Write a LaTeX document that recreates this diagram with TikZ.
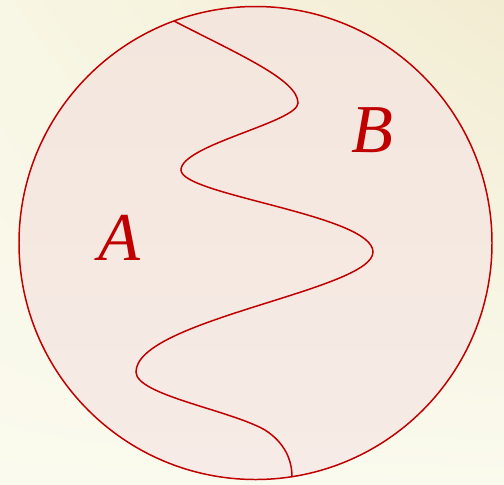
\documentclass[tikz,border=0pt]{standalone}
\usepackage{fontspec}
\usepackage{tikz}
\usetikzlibrary{calc,shadings}
\newfontfamily\labelfont{Liberation Serif}
\definecolor{regionred}{RGB}{192,0,0}
\definecolor{bgpale}{RGB}{250,250,238}
\definecolor{bgyellow}{RGB}{242,236,210}
\definecolor{bgmid}{RGB}{248,246,228}
\definecolor{disctop}{RGB}{243,230,221}
\definecolor{discbot}{RGB}{246,235,230}
\tikzset{
  % outline of the disc and of the dividing curve
  border/.style={draw=regionred, line width=0.85pt},
  % region labels
  regionlabel/.style={text=regionred, font=\labelfont\itshape\fontsize{39}{39}\selectfont, inner sep=0pt}
}

\begin{document}
\begin{tikzpicture}[x=0.02cm, y=-0.02cm]

% background
\useasboundingbox (0,0) rectangle (504,484);
\shade[upper left=bgmid, upper right=bgyellow, lower left=bgpale, lower right=bgpale]
  (0,0) rectangle (504,484);

% disc
\coordinate (centre) at (255.5,243);
\shade[top color=disctop, bottom color=discbot] (centre) circle[radius=236.5];
\draw[border] (centre) circle[radius=236.5];

% dividing curve
\coordinate (top) at (174,21);
\coordinate (bot) at (292,477);
\draw[border] (top) .. controls (240,55) and (298,80) .. (298,103)
  .. controls (298,122) and (181,145) .. (181,170)
  .. controls (181,195) and (373,215) .. (373,252)
  .. controls (373,290) and (136,320) .. (136,372)
  .. controls (136,395) and (230,410) .. (265,430)
  .. controls (285,443) and (292,460) .. (bot);

% labels
\node[regionlabel] (labA) at (119,238) {A};
\node[regionlabel] (labB) at (372,130) {B};

\end{tikzpicture}
\end{document}
